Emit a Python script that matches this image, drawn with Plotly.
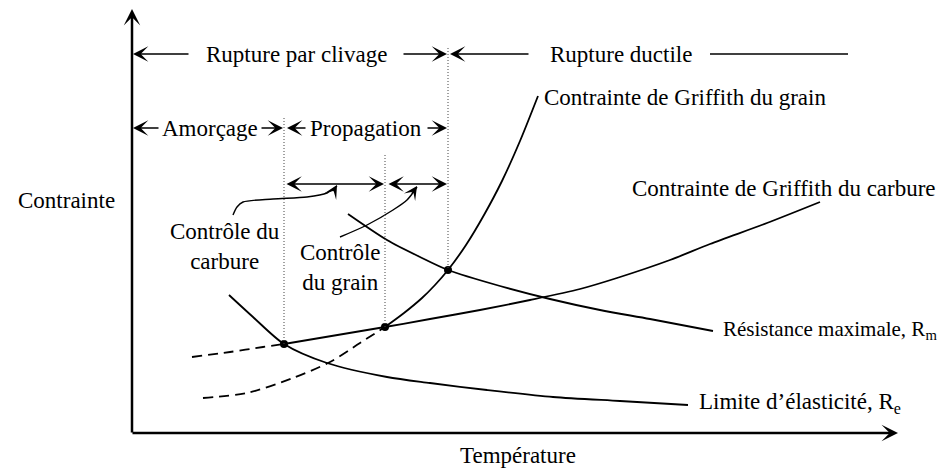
import plotly.graph_objects as go

# Schematic values
# T = temperature (arbitrary units), S = stress (arbitrary units)
re_T = [97, 121, 152, 195, 255, 298, 355, 421, 488, 556]
re_S = [138, 116, 89, 70, 56, 50, 43, 36, 32, 28]

rm_T = [216, 255, 288, 316, 368, 418, 468, 518, 581]
rm_S = [219, 193, 176, 163, 147, 134, 123, 114, 102]

carb_dash_T = [60, 98, 131, 152]
carb_dash_S = [76, 81, 86, 89]
carb_T = [152, 253, 298, 348, 398, 448, 485, 538, 578, 635, 688]
carb_S = [89, 106, 114, 123, 133, 144, 155, 173, 189, 210, 231]

grain_dash_T = [71, 115, 161, 198, 228, 253]
grain_dash_S = [35, 40, 55, 71, 90, 106]
grain_T = [253, 272, 290, 303, 316, 334, 352, 370, 388, 406]
grain_S = [106, 120, 135, 148, 163, 188, 218, 252, 292, 337]

# intersection points
cross_T = [152, 253, 316]
cross_S = [89, 106, 163]

# leader curves for the "Contrôle" labels
lead1_T = [101, 105, 111, 141, 175, 195, 205]
lead1_S = [218, 226, 231, 234, 236, 240, 247]
lead2_T = [208, 235, 261, 275, 285]
lead2_S = [196, 208, 223, 233, 246]

FONT = dict(family="Liberation Serif", size=23, color="black")
BLACK = "black"

fig = go.Figure()


def curve(x, y, dash=None, width=1.8, shape="spline"):
    fig.add_trace(go.Scatter(
        x=x, y=y, mode="lines",
        line=dict(color=BLACK, width=width, dash=dash, shape=shape, smoothing=0.8),
        hoverinfo="skip", showlegend=False,
    ))


def vline(x, y0, y1):
    fig.add_trace(go.Scatter(
        x=[x, x], y=[y0, y1], mode="lines",
        line=dict(color="#444444", width=1, dash="1px,2px"),
        hoverinfo="skip", showlegend=False,
    ))


def arrow(x, y, ax, ay, both=False, width=1.5, size=1.7):
    fig.add_annotation(
        x=x, y=y, ax=ax, ay=ay, xref="x", yref="y", axref="x", ayref="y",
        text="", showarrow=True, arrowhead=3, arrowsize=size, arrowwidth=width,
        arrowcolor=BLACK, arrowside="end+start" if both else "end",
        startarrowhead=3, startarrowsize=size, standoff=0, startstandoff=0,
    )


def label(x, y, text, anchor="center", size=23):
    fig.add_annotation(x=x, y=y, xref="x", yref="y", text=text, showarrow=False,
                       font=dict(FONT, size=size), xanchor=anchor, yanchor="middle")


# curves
curve(carb_dash_T, carb_dash_S, dash="10px,6px")
curve(grain_dash_T, grain_dash_S, dash="10px,6px")
curve(carb_T, carb_S)
curve(grain_T, grain_S)
curve(re_T, re_S)
curve(rm_T, rm_S)
curve(lead1_T, lead1_S, width=1.4)
curve(lead2_T, lead2_S, width=1.4)

fig.add_trace(go.Scatter(
    x=cross_T, y=cross_S, mode="markers",
    marker=dict(color=BLACK, size=8), hoverinfo="skip", showlegend=False,
))

# dotted boundaries
vline(152, 315, 89)
vline(253, 278, 106)
vline(316, 385, 163)

# axes
arrow(766, 0, -1, 0, width=2.5, size=1.1)
arrow(0, 424, 0, -1, width=2.5, size=1.1)

# row 1
arrow(1, 379, 58, 379)
arrow(315, 379, 270, 379)
arrow(318, 379, 398, 379)
curve([578, 716], [379, 379], width=1.5, shape="linear")
label(164.5, 379, "Rupture par clivage")
label(489, 379, "Rupture ductile")

# row 2
arrow(1, 305, 28, 305)
arrow(151, 305, 128, 305)
arrow(155, 305, 175, 305)
arrow(315, 305, 294, 305)
label(78, 305, "Amorçage")
label(234, 305, "Propagation")

# row 3
arrow(252, 249, 153, 249, both=True)
arrow(315, 249, 255, 249, both=True)

# leader arrowheads
arrow(205, 248, 201, 241, size=1.5)
arrow(285, 247, 279, 238, size=1.5)

# labels
label(-66, 233, "Contrainte")
label(386, -22, "Température")
label(410, 336, "Contrainte de Griffith du grain", anchor="left")
label(806, 245, "Contrainte de Griffith du carbure", anchor="right")
label(589, 103, "Résistance maximale, R<sub>m</sub>", anchor="left", size=21)
label(565, 30, "Limite d’élasticité, R<sub>e</sub>", anchor="left")
label(93, 187, "Contrôle du<br>carbure")
label(208, 166, "Contrôle<br>du grain")

# the page body adds an 8px margin, so the figure is 8px smaller
# and the ranges are offset to keep the drawing where it belongs
fig.update_layout(
    width=937, height=463,
    margin=dict(l=0, r=0, t=0, b=0),
    paper_bgcolor="white", plot_bgcolor="white",
    xaxis=dict(range=[-124, 813], visible=False, fixedrange=True),
    yaxis=dict(range=[-38, 425], visible=False, fixedrange=True),
    showlegend=False,
)

fig.write_html("out.html")
